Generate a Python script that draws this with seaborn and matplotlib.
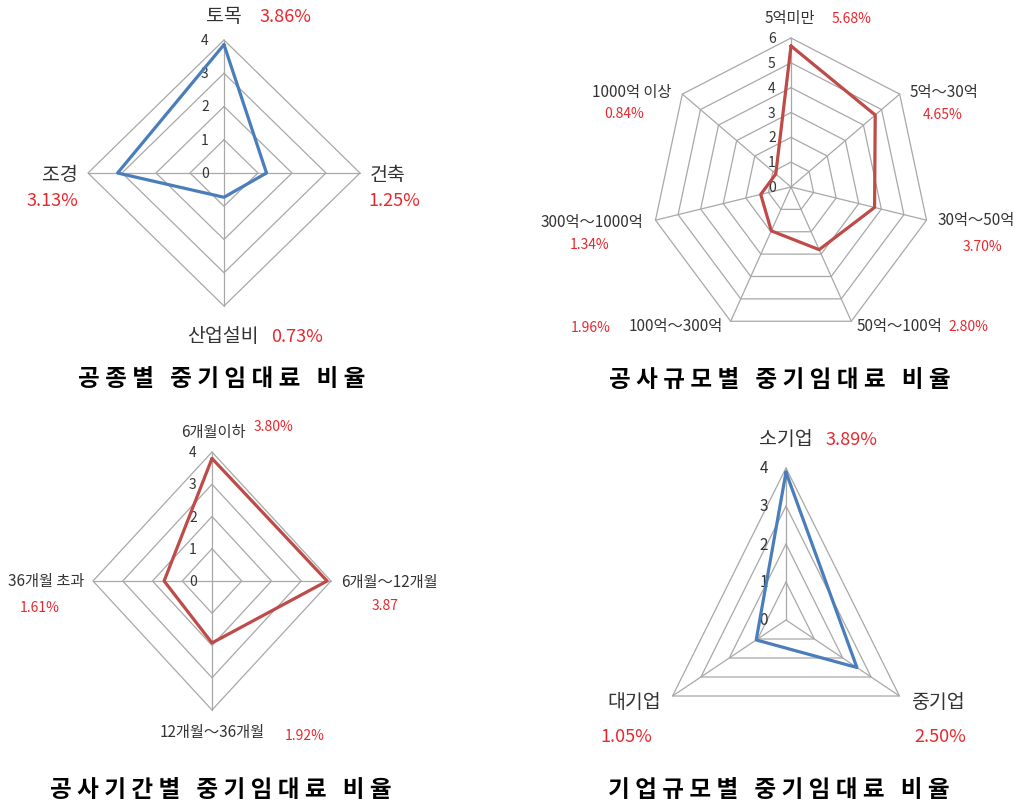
import numpy as np
import pandas as pd
import matplotlib
matplotlib.use("Agg")
import matplotlib.pyplot as plt
import seaborn as sns

# ---- data ----
cats1 = ["토목", "건축", "산업설비", "조경"]
vals1 = [3.86, 1.25, 0.73, 3.13]
pct1 = ["3.86%", "1.25%", "0.73%", "3.13%"]

cats2 = ["5억미만", "5억～30억", "30억～50억", "50억～100억",
         "100억～300억", "300억～1000억", "1000억 이상"]
vals2 = [5.68, 4.65, 3.70, 2.80, 1.96, 1.34, 0.84]
pct2 = ["5.68%", "4.65%", "3.70%", "2.80%", "1.96%", "1.34%", "0.84%"]

cats3 = ["6개월이하", "6개월～12개월", "12개월～36개월", "36개월 초과"]
vals3 = [3.80, 3.87, 1.92, 1.61]
pct3 = ["3.80%", "3.87", "1.92%", "1.61%"]

cats4 = ["소기업", "중기업", "대기업"]
vals4 = [3.89, 2.50, 1.05]
pct4 = ["3.89%", "2.50%", "1.05%"]

titles = ["공종별  중기임대료  비율", "공사규모별  중기임대료  비율",
          "공사기간별  중기임대료  비율", "기업규모별  중기임대료  비율"]

# ---- style ----
sns.set_theme(style="white")
plt.rcParams["font.family"] = ["Noto Sans CJK KR", "DejaVu Sans"]

BLUE = "#4A7EBB"
RED = "#BE4B48"
GRID = "#A8A8A8"
PCT = "#E8282E"
TXT = "#333333"

W, H = 1020, 804
fig = plt.figure(figsize=(W / 100, H / 100), dpi=100)
fig.patch.set_facecolor("white")


def radar(cx, cy, rx, ry, rmax, vals, color, tick_fs, tick_off):
    n = len(vals)
    ang = np.pi / 2 - 2 * np.pi * np.arange(n) / n
    ring = np.append(ang, ang[0])
    pad = 1.02
    ax = fig.add_axes([(cx - rx * pad) / W, 1 - (cy + ry * pad) / H,
                       2 * rx * pad / W, 2 * ry * pad / H])
    ax.set_xlim(-rmax * pad, rmax * pad)
    ax.set_ylim(-rmax * pad, rmax * pad)
    ax.set_axis_off()
    for lv in range(1, rmax + 1):
        ax.plot(lv * np.cos(ring), lv * np.sin(ring), color=GRID, lw=0.9, zorder=1)
    for a in ang:
        ax.plot([0, rmax * np.cos(a)], [0, rmax * np.sin(a)], color=GRID, lw=0.9, zorder=1)
    for lv in range(0, rmax + 1):
        ax.annotate(str(lv), (0, lv), xytext=(-tick_off, 0), textcoords="offset points",
                    ha="right", va="center", fontsize=tick_fs, color=TXT, zorder=2)
    v = np.append(vals, vals[0])
    df = pd.DataFrame({"x": v * np.cos(ring), "y": v * np.sin(ring)})
    sns.lineplot(data=df, x="x", y="y", sort=False, estimator=None, color=color,
                 lw=2.3, ax=ax, zorder=4)
    return ax


def label(x, y, s, fs, color=TXT, weight="normal"):
    fig.text(x / W, 1 - y / H, s, ha="center", va="center", fontsize=fs,
             color=color, fontweight=weight)


# chart 1
radar(224, 174, 136, 133, 4, vals1, BLUE, 10, 11)
for s, p in zip(cats1, [(224, 17), (388, 175), (223, 337), (60, 175)]):
    label(*p, s, 14)
for s, p in zip(pct1, [(285, 17), (394, 201), (297, 337), (52, 201)]):
    label(*p, s, 13, PCT)

# chart 2
radar(791, 188, 139, 149, 6, vals2, RED, 10, 11)
for s, p in zip(cats2, [(790, 18), (944, 92), (976, 221), (899, 327),
                        (676, 327), (592, 222), (632, 92)]):
    label(*p, s, 11)
for s, p in zip(pct2, [(852, 19), (943, 115), (982, 247), (968, 327),
                       (591, 328), (590, 245), (624, 114)]):
    label(*p, s, 10, PCT)

# chart 3
radar(212, 582, 119, 129, 4, vals3, RED, 10, 11)
for s, p in zip(cats3, [(213, 433), (389, 583), (212, 733), (46, 582)]):
    label(*p, s, 11)
for s, p in zip(pct3, [(274, 427), (385, 606), (305, 736), (40, 608)]):
    label(*p, s, 10, PCT)

# chart 4
radar(786, 621, 131, 152, 4, vals4, BLUE, 11, 13)
for s, p in zip(cats4, [(786, 440), (938, 703), (634, 703)]):
    label(*p, s, 14)
for s, p in zip(pct4, [(852, 440), (940, 737), (626, 737)]):
    label(*p, s, 13, PCT)

# titles
for s, p in zip(titles, [(222, 379), (780, 380), (221, 790), (779, 790)]):
    label(*p, " ".join(s).replace("     ", "   "), 17, "black", "bold")

fig.savefig("out.png", dpi=100, facecolor="white")
